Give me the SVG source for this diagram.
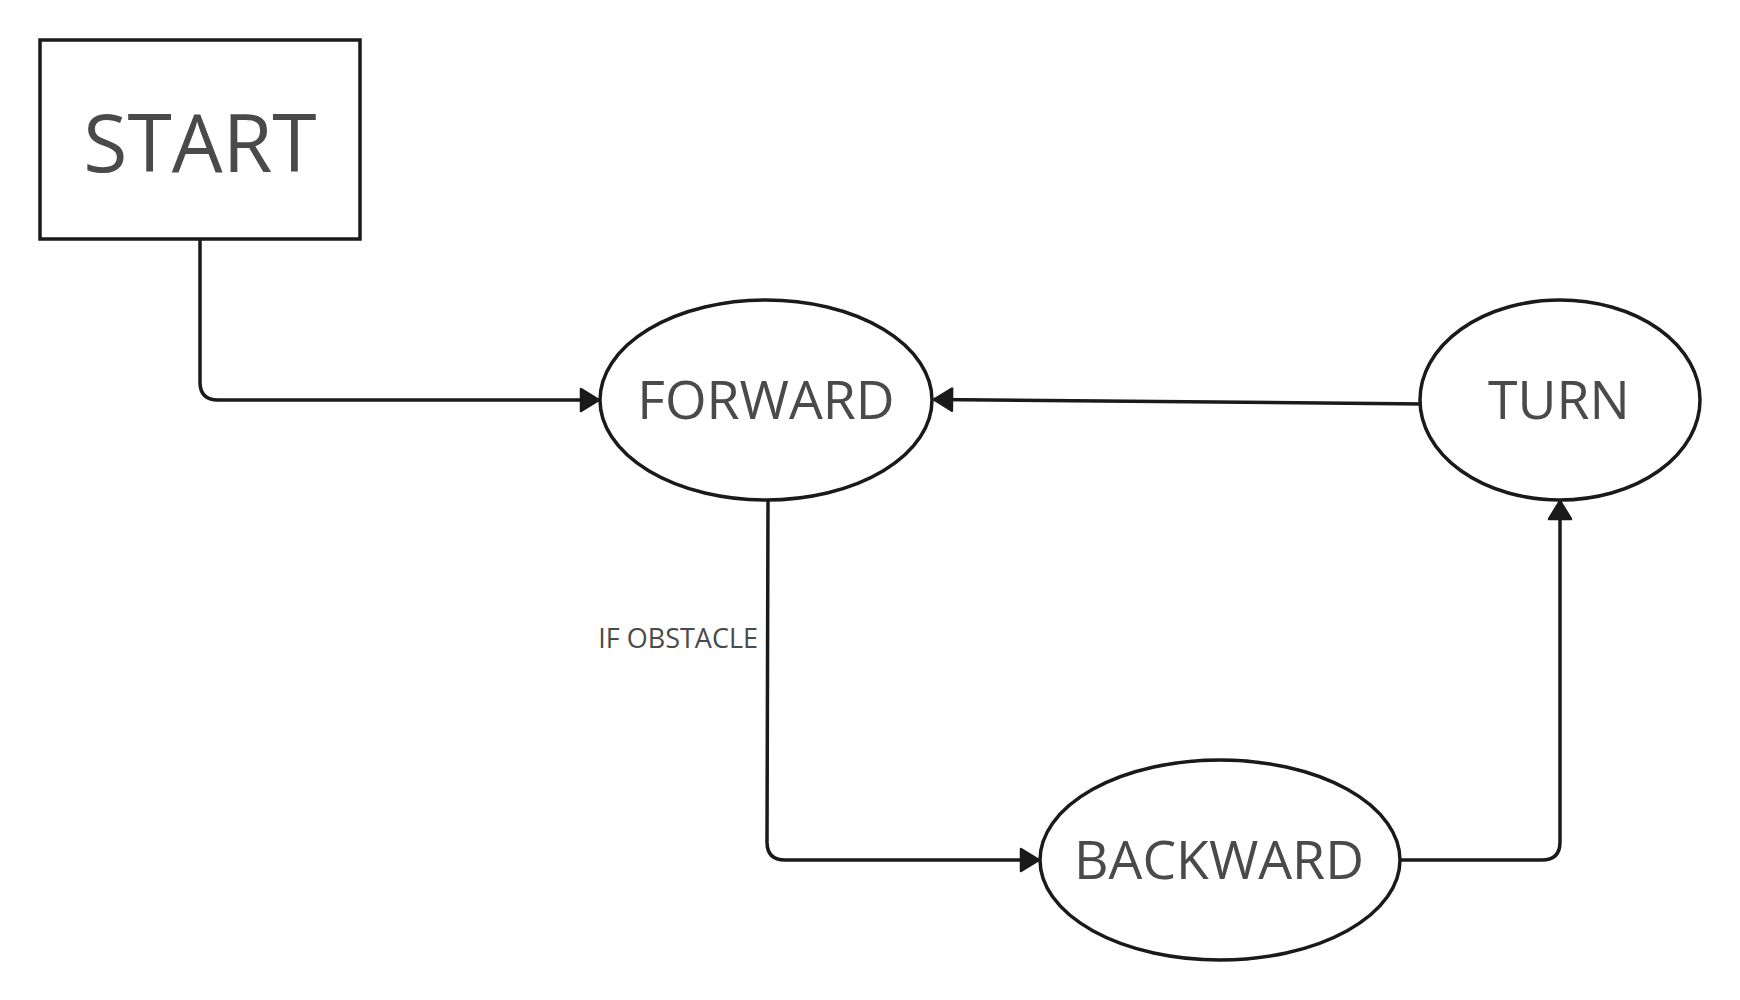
<svg xmlns="http://www.w3.org/2000/svg" width="1740" height="1000" viewBox="0 0 1740 1000">
<style>
.shape{fill:#ffffff;stroke:#1a1a1a;stroke-width:3.5}
.conn{fill:none;stroke:#1a1a1a;stroke-width:3.5;stroke-linejoin:round}
.lbl{font-family:"Open Sans","Noto Sans",sans-serif;fill:#4a4a4a;text-anchor:middle}
.big{font-size:53.5px}
.small{font-size:27px;text-anchor:end}
</style>
<defs>
<marker id="arr" viewBox="0 0 22 26" refX="20" refY="13" markerWidth="22" markerHeight="26" markerUnits="userSpaceOnUse" orient="auto">
<path d="M2,2 L20,13 L2,24 Z" fill="#1a1a1a" stroke="#1a1a1a" stroke-width="2.5" stroke-linejoin="round"/>
</marker>
</defs>
<rect width="1740" height="1000" fill="#ffffff"/>
<g id="connectors">
<path class="conn" d="M200,240 V382 Q200,400 218,400 H599" marker-end="url(#arr)"/>
<path class="conn" d="M1425,404 L934,399.5" marker-end="url(#arr)"/>
<path class="conn" d="M768,500 L767,842 Q767,860 785,860 H1039" marker-end="url(#arr)"/>
<path class="conn" d="M1400,860 H1542 Q1560,860 1560,842 V501" marker-end="url(#arr)"/>
<text class="lbl small" x="758" y="648">IF OBSTACLE</text>
</g>
<g id="start">
<rect class="shape" x="40" y="40" width="320" height="199"/>
<text class="lbl" x="200" y="172" font-size="80.5">START</text>
</g>
<g id="forward">
<ellipse class="shape" cx="766" cy="400" rx="166" ry="100"/>
<text class="lbl big" x="766" y="419">FORWARD</text>
</g>
<g id="turn">
<ellipse class="shape" cx="1560" cy="400" rx="140" ry="100"/>
<text class="lbl big" x="1559" y="419">TURN</text>
</g>
<g id="backward">
<ellipse class="shape" cx="1220" cy="860" rx="180" ry="100"/>
<text class="lbl big" x="1219" y="879">BACKWARD</text>
</g>
</svg>
